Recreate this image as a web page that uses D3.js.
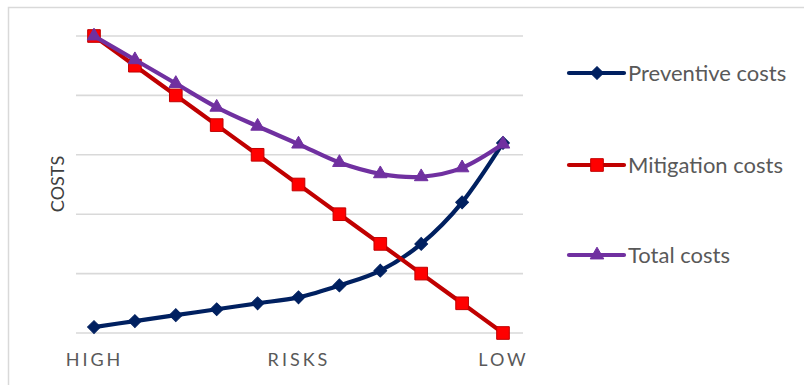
<!DOCTYPE html>
<html>
<head>
<meta charset="utf-8">
<script src="https://cdn.jsdelivr.net/npm/d3@7"></script>
<style>
  html, body { margin: 0; padding: 0; background: #ffffff; }
  svg { display: block; }
</style>
</head>
<body>
<div id="chart"></div>
<script>
// Risk level steps, from high risk (left) to low risk (right)
const steps = [1, 2, 3, 4, 5, 6, 7, 8, 9, 10, 11];
const stepLabels = ["HIGH", "", "", "", "", "RISKS", "", "", "", "", "LOW"];

// Cost series per risk step
const preventiveCosts = [1, 2, 3, 4, 5, 6, 8, 10.5, 15, 22, 32];
const mitigationCosts = [50, 45, 40, 35, 30, 25, 20, 15, 10, 5, 0];
const totalCosts = [50, 46, 42, 38, 34.8, 31.8, 28.7, 26.8, 26.3, 27.8, 31.8];

const costTicks = [0, 10, 20, 30, 40, 50];

const seriesNames = ["Preventive costs", "Mitigation costs", "Total costs"];
const seriesColors = ["#002060", "#c00000", "#7030a0"];
const seriesValues = [preventiveCosts, mitigationCosts, totalCosts];

const W = 804, H = 385;
const svg = d3.select("#chart").append("svg").attr("width", W).attr("height", H);

// Chart frame
svg.append("rect")
  .attr("x", 8.5).attr("y", 7.5)
  .attr("width", W + 20).attr("height", H + 20)
  .attr("fill", "#ffffff").attr("stroke", "#d9d9d9").attr("stroke-width", 1.5);

const x = d3.scalePoint().domain(steps).range([94, 503]);
const y = d3.scaleLinear().domain([0, 50]).range([333, 36]);

// Horizontal gridlines
svg.append("g")
  .selectAll("line")
  .data(costTicks)
  .join("line")
  .attr("x1", 76).attr("x2", 523)
  .attr("y1", d => y(d)).attr("y2", d => y(d))
  .attr("stroke", "#d9d9d9").attr("stroke-width", 1.6);

// Category axis: only the labelled steps carry text
const xAxis = d3.axisBottom(x)
  .tickValues(steps.filter((s, i) => stepLabels[i] !== ""))
  .tickFormat(s => stepLabels[steps.indexOf(s)])
  .tickSize(0)
  .tickPadding(0);

const xg = svg.append("g").attr("transform", "translate(0,353)").call(xAxis);
xg.select(".domain").remove();
xg.selectAll("text")
  .attr("dy", "0.71em")
  .attr("font-family", "Lato, 'Open Sans', sans-serif")
  .attr("font-size", 18)
  .attr("letter-spacing", 3)
  .attr("fill", "#595959");

// Vertical axis title
svg.append("text")
  .attr("transform", "translate(64,184) rotate(-90)")
  .attr("text-anchor", "middle")
  .attr("font-family", "Lato, 'Open Sans', sans-serif")
  .attr("font-size", 18)
  .attr("fill", "#404040")
  .text("COSTS");

const symbolTypes = [d3.symbolSquare, d3.symbolSquare, d3.symbolTriangle];
const symbolSizes = [82, 160, 80];
const symbolRotate = [45, 0, 0];
const symbolFill = ["#002060", "#ff0000", "#7030a0"];
const symbolStroke = ["#002060", "#c00000", "#7030a0"];

const line = d3.line()
  .x((d, i) => x(steps[i]))
  .y(d => y(d))
  .curve(d3.curveCatmullRom.alpha(0));

// Draw series in order so total costs sit on top
seriesValues.forEach((vals, s) => {
  const g = svg.append("g");
  g.append("path")
    .attr("d", line(vals))
    .attr("fill", "none")
    .attr("stroke", seriesColors[s])
    .attr("stroke-width", 4.2)
    .attr("stroke-linejoin", "round")
    .attr("stroke-linecap", "round");
  g.selectAll("path.mk")
    .data(vals)
    .join("path")
    .attr("class", "mk")
    .attr("d", d3.symbol().type(symbolTypes[s]).size(symbolSizes[s]))
    .attr("transform", (d, i) => `translate(${x(steps[i])},${y(d)}) rotate(${symbolRotate[s]})`)
    .attr("fill", symbolFill[s])
    .attr("stroke", symbolStroke[s])
    .attr("stroke-width", 1);
});

// Legend
const legendY = [73, 165, 255];
seriesNames.forEach((name, s) => {
  const g = svg.append("g").attr("transform", `translate(0,${legendY[s]})`);
  g.append("line")
    .attr("x1", 569).attr("x2", 624).attr("y1", 0).attr("y2", 0)
    .attr("stroke", seriesColors[s]).attr("stroke-width", 4.2)
    .attr("stroke-linecap", "round");
  g.append("path")
    .attr("d", d3.symbol().type(symbolTypes[s]).size(symbolSizes[s]))
    .attr("transform", `translate(597,0) rotate(${symbolRotate[s]})`)
    .attr("fill", symbolFill[s])
    .attr("stroke", symbolStroke[s])
    .attr("stroke-width", 1);
  g.append("text")
    .attr("x", 628).attr("y", 0).attr("dy", "0.35em")
    .attr("font-family", "Lato, 'Open Sans', sans-serif")
    .attr("font-size", 22)
    .attr("fill", "#595959")
    .text(name);
});
</script>
</body>
</html>
